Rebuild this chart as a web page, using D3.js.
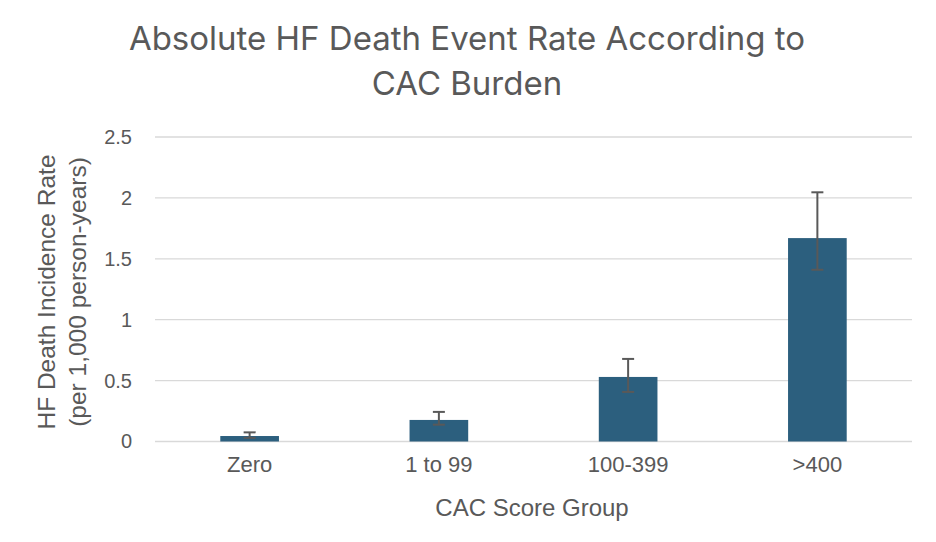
<!DOCTYPE html>
<html>
<head>
<meta charset="utf-8">
<script src="https://cdn.jsdelivr.net/npm/d3@7"></script>
<style>
  body { margin: 0; background: #fff; }
  svg { display: block; }
</style>
</head>
<body>
<svg class="bar-chart"></svg>
<script>
const width = 936;
const height = 542;

// Data
const groups = ['Zero', '1 to 99', '100-399', '>400'];
const rates = [0.045, 0.177, 0.53, 1.67];
const errLow = [0.03, 0.138, 0.407, 1.41];
const errHigh = [0.075, 0.243, 0.678, 2.046];
const yTicks = [0, 0.5, 1, 1.5, 2, 2.5];

const margin = {left: 155, right: 24, top: 137, bottom: 100};
const font = '"Liberation Sans", Arial, sans-serif';

const svg = d3.select('.bar-chart')
    .attr('width', width)
    .attr('height', height);

// Title
const title = svg.append('text')
    .attr('text-anchor', 'middle')
    .attr('font-family', 'Inter, "Open Sans", sans-serif')
    .attr('font-size', 33)
    .attr('fill', '#595959');
title.append('tspan').attr('x', 467).attr('y', 50).text('Absolute HF Death Event Rate According to');
title.append('tspan').attr('x', 467).attr('y', 95).text('CAC Burden');

// Scales
const xScale = d3.scaleBand()
    .domain(groups)
    .range([margin.left, width - margin.right])
    .paddingInner(0.69)
    .paddingOuter(0.345);

const yScale = d3.scaleLinear()
    .domain([0, 2.5])
    .range([441.5, margin.top]);

// Gridlines
svg.append('g')
    .selectAll('line')
    .data(yTicks).enter().append('line')
    .attr('x1', margin.left)
    .attr('x2', width - margin.right)
    .attr('y1', d => yScale(d))
    .attr('y2', d => yScale(d))
    .attr('stroke', '#d9d9d9')
    .attr('stroke-width', 1.3);

// Y axis
const yAxis = d3.axisLeft(yScale).tickValues(yTicks).tickSize(0).tickPadding(23).tickFormat(d => d);
svg.append('g')
    .attr('transform', `translate(${margin.left},0)`)
    .call(yAxis)
    .call(g => g.select('.domain').remove())
    .selectAll('text')
    .attr('font-family', font)
    .attr('font-size', 20)
    .attr('fill', '#595959');

// X axis
const xAxis = d3.axisBottom(xScale).tickSize(0).tickPadding(15);
svg.append('g')
    .attr('transform', `translate(0,${yScale(0)})`)
    .call(xAxis)
    .call(g => g.select('.domain').remove())
    .selectAll('text')
    .attr('font-family', font)
    .attr('font-size', 22)
    .attr('fill', '#595959');

// Bars
svg.append('g')
    .selectAll('rect')
    .data(groups).enter().append('rect')
    .attr('x', d => xScale(d))
    .attr('width', xScale.bandwidth())
    .attr('y', (d, i) => yScale(rates[i]))
    .attr('height', (d, i) => yScale(0) - yScale(rates[i]))
    .attr('fill', '#2c5f7e');

// Error bars
const err = svg.append('g')
    .attr('stroke', '#595959')
    .attr('stroke-width', 2);

groups.forEach((d, i) => {
    const cx = xScale(d) + xScale.bandwidth() / 2;
    err.append('line')
        .attr('x1', cx).attr('x2', cx)
        .attr('y1', yScale(errLow[i])).attr('y2', yScale(errHigh[i]));
    [errLow[i], errHigh[i]].forEach(v => {
        err.append('line')
            .attr('x1', cx - 6).attr('x2', cx + 6)
            .attr('y1', yScale(v)).attr('y2', yScale(v));
    });
});

// Axis titles
svg.append('text')
    .attr('x', 532)
    .attr('y', 516)
    .attr('text-anchor', 'middle')
    .attr('font-family', font)
    .attr('font-size', 24)
    .attr('fill', '#595959')
    .text('CAC Score Group');

const yTitle = svg.append('text')
    .attr('transform', 'translate(0,292) rotate(-90)')
    .attr('text-anchor', 'middle')
    .attr('font-family', font)
    .attr('font-size', 24.5)
    .attr('fill', '#595959');
yTitle.append('tspan').attr('x', 0).attr('y', 55).text('HF Death Incidence Rate');
yTitle.append('tspan').attr('x', 0).attr('y', 86).text('(per 1,000 person-years)');
</script>
</body>
</html>
